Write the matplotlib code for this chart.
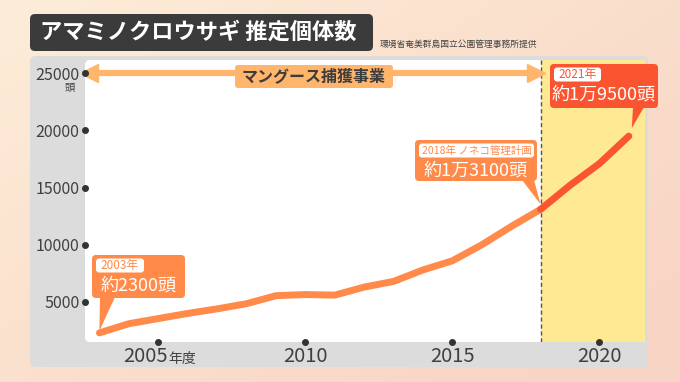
import numpy as np
import matplotlib.pyplot as plt
from matplotlib.patches import FancyBboxPatch, Polygon
from matplotlib.transforms import blended_transform_factory, offset_copy

plt.rcParams['font.family'] = ['Noto Sans CJK JP', 'DejaVu Sans']

# data
years = [2003, 2004, 2005, 2006, 2007, 2008, 2009, 2010, 2011, 2012,
         2013, 2014, 2015, 2016, 2017, 2018, 2019, 2020, 2021]
counts = [2300, 3100, 3550, 4000, 4400, 4850, 5550, 5650, 5600, 6300,
          6800, 7800, 8600, 10000, 11600, 13100, 15200, 17100, 19500]
y_ticks = [5000, 10000, 15000, 20000, 25000]
x_ticks = [2005, 2010, 2015, 2020]
plan_year = 2018
mongoose_start, mongoose_end = 2003, 2018

title = 'アマミノクロウサギ 推定個体数'
source = '環境省奄美群島国立公園管理事務所提供'

W, H = 680, 382
fig = plt.figure(figsize=(W / 100, H / 100), dpi=100)

# background layer in pixel coords
bg = fig.add_axes([0, 0, 1, 1], zorder=0)
bg.set_xlim(0, W)
bg.set_ylim(H, 0)
bg.axis('off')
gx, gy = np.meshgrid(np.linspace(0, 1, 200), np.linspace(0, 1, 120))
t = np.clip(0.6 * gx + 0.5 * gy, 0, 1)[..., None]
c0 = np.array([253, 237, 216]) / 255
c1 = np.array([248, 212, 196]) / 255
bg.imshow(c0 * (1 - t) + c1 * t, extent=[0, W, H, 0], aspect='auto')

bg.add_patch(FancyBboxPatch((30, 56), 618, 311, boxstyle='round,pad=0,rounding_size=6',
                            fc='#dcdcdc', ec='none'))
bg.add_patch(FancyBboxPatch((85, 60), 560, 282, boxstyle='round,pad=0,rounding_size=5',
                            fc='white', ec='none'))
bg.add_patch(FancyBboxPatch((30, 14), 343, 37, boxstyle='round,pad=0,rounding_size=5',
                            fc='#3b3b3b', ec='none'))
bg.text(40, 32.5, title, color='white', fontsize=16, fontweight='bold', va='center', ha='left')
bg.text(380, 44, source, color='#444444', fontsize=6.3, va='center', ha='left')

# main chart
ax = fig.add_axes([85 / W, 40 / H, 560 / W, 282 / H], zorder=1)
ax.patch.set_alpha(0)
ax.set_xlim(2002.51, 2021.55)
ax.set_ylim(1503, 26154)
for s in ax.spines.values():
    s.set_visible(False)

ax.axvspan(plan_year, 2021.55, color='#ffe993', lw=0, zorder=0)
ax.axvline(plan_year, color='#555555', lw=1, ls=(0, (3, 2)), zorder=1)

yrs = np.array(years)
cnt = np.array(counts)
m1 = yrs <= plan_year
m2 = yrs >= plan_year
ax.plot(yrs[m1], cnt[m1], color='#ff8a4a', lw=5, solid_capstyle='round',
        solid_joinstyle='round', zorder=3)
ax.plot(yrs[m2], cnt[m2], color='#fa5530', lw=5, solid_capstyle='round',
        solid_joinstyle='round', zorder=3)

# ticks: dots on the axis edges
ax.set_yticks(y_ticks)
ax.set_yticklabels([str(v) for v in y_ticks], fontsize=11.5, color='#404040')
ax.set_xticks(x_ticks)
ax.set_xticklabels([''] + [str(v) for v in x_ticks[1:]], fontsize=14.5, color='#404040')
ax.tick_params(axis='y', length=0, pad=4)
ax.tick_params(axis='x', length=0, pad=3)
ty = blended_transform_factory(ax.transAxes, ax.transData)
tx = blended_transform_factory(ax.transData, ax.transAxes)
ax.plot([0] * len(y_ticks), y_ticks, 'o', ms=4, color='#333333', transform=ty, clip_on=False, zorder=5)
ax.plot(x_ticks, [0] * len(x_ticks), 'o', ms=4, color='#333333', transform=tx, clip_on=False, zorder=5)

# first x label "2005年度"
lab_tr = offset_copy(tx, fig=fig, x=10, y=-14.5, units='dots')
ax.text(x_ticks[0], 0, str(x_ticks[0]), transform=lab_tr, ha='right', va='center',
        fontsize=14.5, color='#404040')
ax.text(x_ticks[0], 0, '年度', transform=offset_copy(tx, fig=fig, x=10, y=-16.5, units='dots'),
        ha='left', va='center', fontsize=10, color='#404040')
ax.text(0, y_ticks[-1], '頭', transform=offset_copy(ty, fig=fig, x=-15, y=-14, units='dots'),
        ha='center', va='center', fontsize=7.5, color='#404040')

# mongoose arrow
arrow_c = '#ffb56b'
ax.plot([mongoose_start - 0.4, mongoose_end - 0.1], [25000, 25000], color=arrow_c, lw=4.5,
        solid_capstyle='butt', zorder=2)
ax.plot([mongoose_start - 0.35], [25000], marker='<', ms=13, color=arrow_c, mec=arrow_c, zorder=2)
ax.plot([mongoose_end - 0.15], [25000], marker='>', ms=13, color=arrow_c, mec=arrow_c, zorder=2)

# overlay for callouts, pixel coords
ov = fig.add_axes([0, 0, 1, 1], zorder=2)
ov.set_xlim(0, W)
ov.set_ylim(H, 0)
ov.axis('off')
ov.patch.set_alpha(0)

ov.add_patch(FancyBboxPatch((235, 65), 158, 23, boxstyle='round,pad=0,rounding_size=3',
                            fc=arrow_c, ec='none'))
ov.text(314, 76.5, 'マングース捕獲事業', ha='center', va='center', fontsize=11.5,
        color='#3c3c3c', fontweight='bold')


def to_px(x, y):
    px, py = ax.transData.transform((x, y))
    return px, H - py


def callout(box, base, tip, color, small, big, small_w, small_fs):
    x0, y0, x1, y1 = box
    ov.add_patch(FancyBboxPatch((x0, y0), x1 - x0, y1 - y0,
                                boxstyle='round,pad=0,rounding_size=4', fc=color, ec='none'))
    ov.add_patch(Polygon([(base[0], y1 - 1), (base[1], y1 - 1), tip], closed=True,
                         fc=color, ec='none'))
    ov.add_patch(FancyBboxPatch((x0 + 4, y0 + 3.5), small_w, 14,
                                boxstyle='round,pad=0,rounding_size=3', fc='white', ec='none'))
    ov.text(x0 + 4 + small_w / 2, y0 + 10.5, small, ha='center', va='center',
            fontsize=small_fs, color=color)
    ov.text((x0 + x1) / 2, y0 + 31, big, ha='center', va='center', fontsize=13,
            color='white')


tx0, ty0 = to_px(years[0], counts[0])
callout((92, 255, 185, 298), (100, 115), (tx0, ty0 - 2), '#ff8a4a',
        f'{years[0]}年', '約2300頭', 48, 8.5)

i18 = years.index(plan_year)
tx1, ty1 = to_px(years[i18], counts[i18])
callout((415, 140, 537, 181), (522, 534), (tx1, ty1 - 5), '#ff8a4a',
        f'{plan_year}年 ノネコ管理計画', '約1万3100頭', 115, 7.6)

tx2, ty2 = to_px(years[-1], counts[-1])
callout((550, 64, 658, 108), (633, 644), (tx2 + 3, ty2 - 8), '#fa5530',
        f'{years[-1]}年', '約1万9500頭', 47, 8.5)

fig.savefig('out.png', dpi=100)
